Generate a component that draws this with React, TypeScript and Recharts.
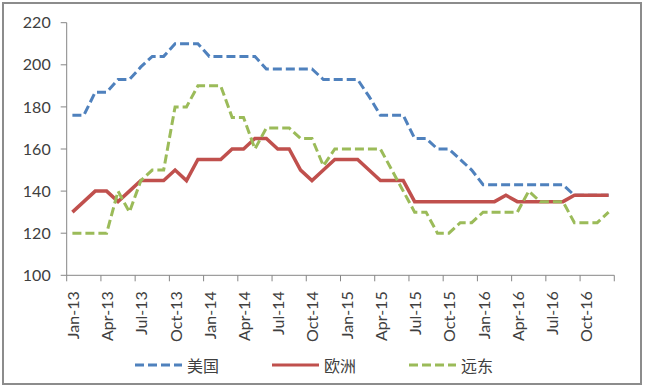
import { LineChart, Line, XAxis, YAxis, Legend } from "recharts";

// months Jan-13 .. Dec-16
const months = [
  "Jan-13", "Feb-13", "Mar-13", "Apr-13", "May-13", "Jun-13", "Jul-13", "Aug-13", "Sep-13", "Oct-13", "Nov-13", "Dec-13",
  "Jan-14", "Feb-14", "Mar-14", "Apr-14", "May-14", "Jun-14", "Jul-14", "Aug-14", "Sep-14", "Oct-14", "Nov-14", "Dec-14",
  "Jan-15", "Feb-15", "Mar-15", "Apr-15", "May-15", "Jun-15", "Jul-15", "Aug-15", "Sep-15", "Oct-15", "Nov-15", "Dec-15",
  "Jan-16", "Feb-16", "Mar-16", "Apr-16", "May-16", "Jun-16", "Jul-16", "Aug-16", "Sep-16", "Oct-16", "Nov-16", "Dec-16",
];

const usa = [
  176, 176, 187, 187, 193, 193, 199, 204, 204, 210, 210, 210,
  204, 204, 204, 204, 204, 198, 198, 198, 198, 198, 193, 193,
  193, 193, 185, 176, 176, 176, 165, 165, 160, 160, 155, 150,
  143, 143, 143, 143, 143, 143, 143, 143, 138, 138, 138, 138,
];

const europe = [
  130, 135, 140, 140, 135, 140, 145, 145, 145, 150, 145, 155,
  155, 155, 160, 160, 165, 165, 160, 160, 150, 145, 150, 155,
  155, 155, 150, 145, 145, 145, 135, 135, 135, 135, 135, 135,
  135, 135, 138, 135, 135, 135, 135, 135, 138, 138, 138, 138,
];

const farEast = [
  120, 120, 120, 120, 140, 130, 145, 150, 150, 180, 180, 190,
  190, 190, 175, 175, 160, 170, 170, 170, 165, 165, 152, 160,
  160, 160, 160, 160, 150, 140, 130, 130, 120, 120, 125, 125,
  130, 130, 130, 130, 140, 135, 135, 135, 125, 125, 125, 130,
];

const yTicks = [100, 120, 140, 160, 180, 200, 220];

const seriesNames = ["美国", "欧洲", "远东"];
const seriesColors = ["#4F81BD", "#C0504D", "#9BBB59"];
const seriesDash = ["9 4", undefined, "9 4"];

const data = months.map((m, i) => ({
  month: m,
  usa: usa[i],
  europe: europe[i],
  farEast: farEast[i],
}));

const FONT = "Lato, 'Noto Sans', sans-serif";
const AXIS = "#868686";
const HALF_STEP = 5.7;
const TICK_SIZE = 6;
const TICK_MARGIN = 10;

function MonthTick(props: any) {
  const { x, y, payload, index, visibleTicksCount } = props;
  const axisY = y - TICK_SIZE - TICK_MARGIN;
  const isLast = index === visibleTicksCount - 1;
  return (
    <g>
      <line x1={x - HALF_STEP} x2={x - HALF_STEP} y1={axisY} y2={axisY + TICK_SIZE} stroke={AXIS} />
      {isLast && (
        <line
          x1={x + HALF_STEP * 5}
          x2={x + HALF_STEP * 5}
          y1={axisY}
          y2={axisY + TICK_SIZE}
          stroke={AXIS}
        />
      )}
      <text
        x={x}
        y={y}
        transform={`rotate(-90, ${x}, ${y})`}
        textAnchor="end"
        dominantBaseline="central"
        fontFamily={FONT}
        fontSize={16}
        fill="#404040"
      >
        {payload.value}
      </text>
    </g>
  );
}

function SeriesLegend() {
  return (
    <div style={{ display: "flex", gap: 53, alignItems: "center" }}>
      {seriesNames.map((name, i) => (
        <div key={name} style={{ display: "flex", alignItems: "center", gap: 5 }}>
          <svg width={47} height={6}>
            <line
              x1={0}
              x2={47}
              y1={3}
              y2={3}
              stroke={seriesColors[i]}
              strokeWidth={3}
              strokeDasharray={seriesDash[i]}
            />
          </svg>
          <span
            style={{
              fontFamily: "'Noto Sans CJK SC', sans-serif",
              fontSize: 16,
              color: "#404040",
              lineHeight: "20px",
            }}
          >
            {name}
          </span>
        </div>
      ))}
    </div>
  );
}

export default function App() {
  return (
    <div style={{ position: "absolute", left: 0, top: 0, width: 645, height: 387, background: "#fff" }}>
      <div
        style={{
          position: "absolute",
          left: 2,
          top: 2,
          width: 640,
          height: 383,
          border: "2px solid #8c8c8c",
          boxSizing: "border-box",
        }}
      />
      <LineChart
        width={645}
        height={387}
        data={data}
        margin={{ top: 22.7, right: 30.7, left: 0, bottom: 0 }}
      >
        <XAxis
          dataKey="month"
          interval={2}
          padding={{ left: HALF_STEP, right: HALF_STEP }}
          height={111.7}
          stroke={AXIS}
          tickLine={false}
          tickSize={TICK_SIZE}
          tickMargin={TICK_MARGIN}
          tick={<MonthTick />}
        />
        <YAxis
          domain={[100, 220]}
          ticks={yTicks}
          width={66.7}
          stroke={AXIS}
          tickSize={TICK_SIZE}
          tickMargin={10}
          tick={{ fill: "#404040", fontFamily: FONT, fontSize: 16 }}
        />
        <Legend
          layout="horizontal"
          verticalAlign="middle"
          align="center"
          wrapperStyle={{ top: 355, left: 135, width: 420 }}
          content={<SeriesLegend />}
        />
        <Line
          dataKey="usa"
          name={seriesNames[0]}
          stroke={seriesColors[0]}
          strokeWidth={3}
          strokeDasharray={seriesDash[0]}
          dot={false}
          isAnimationActive={false}
        />
        <Line
          dataKey="europe"
          name={seriesNames[1]}
          stroke={seriesColors[1]}
          strokeWidth={3.5}
          dot={false}
          isAnimationActive={false}
        />
        <Line
          dataKey="farEast"
          name={seriesNames[2]}
          stroke={seriesColors[2]}
          strokeWidth={3}
          strokeDasharray={seriesDash[2]}
          dot={false}
          isAnimationActive={false}
        />
      </LineChart>
    </div>
  );
}
